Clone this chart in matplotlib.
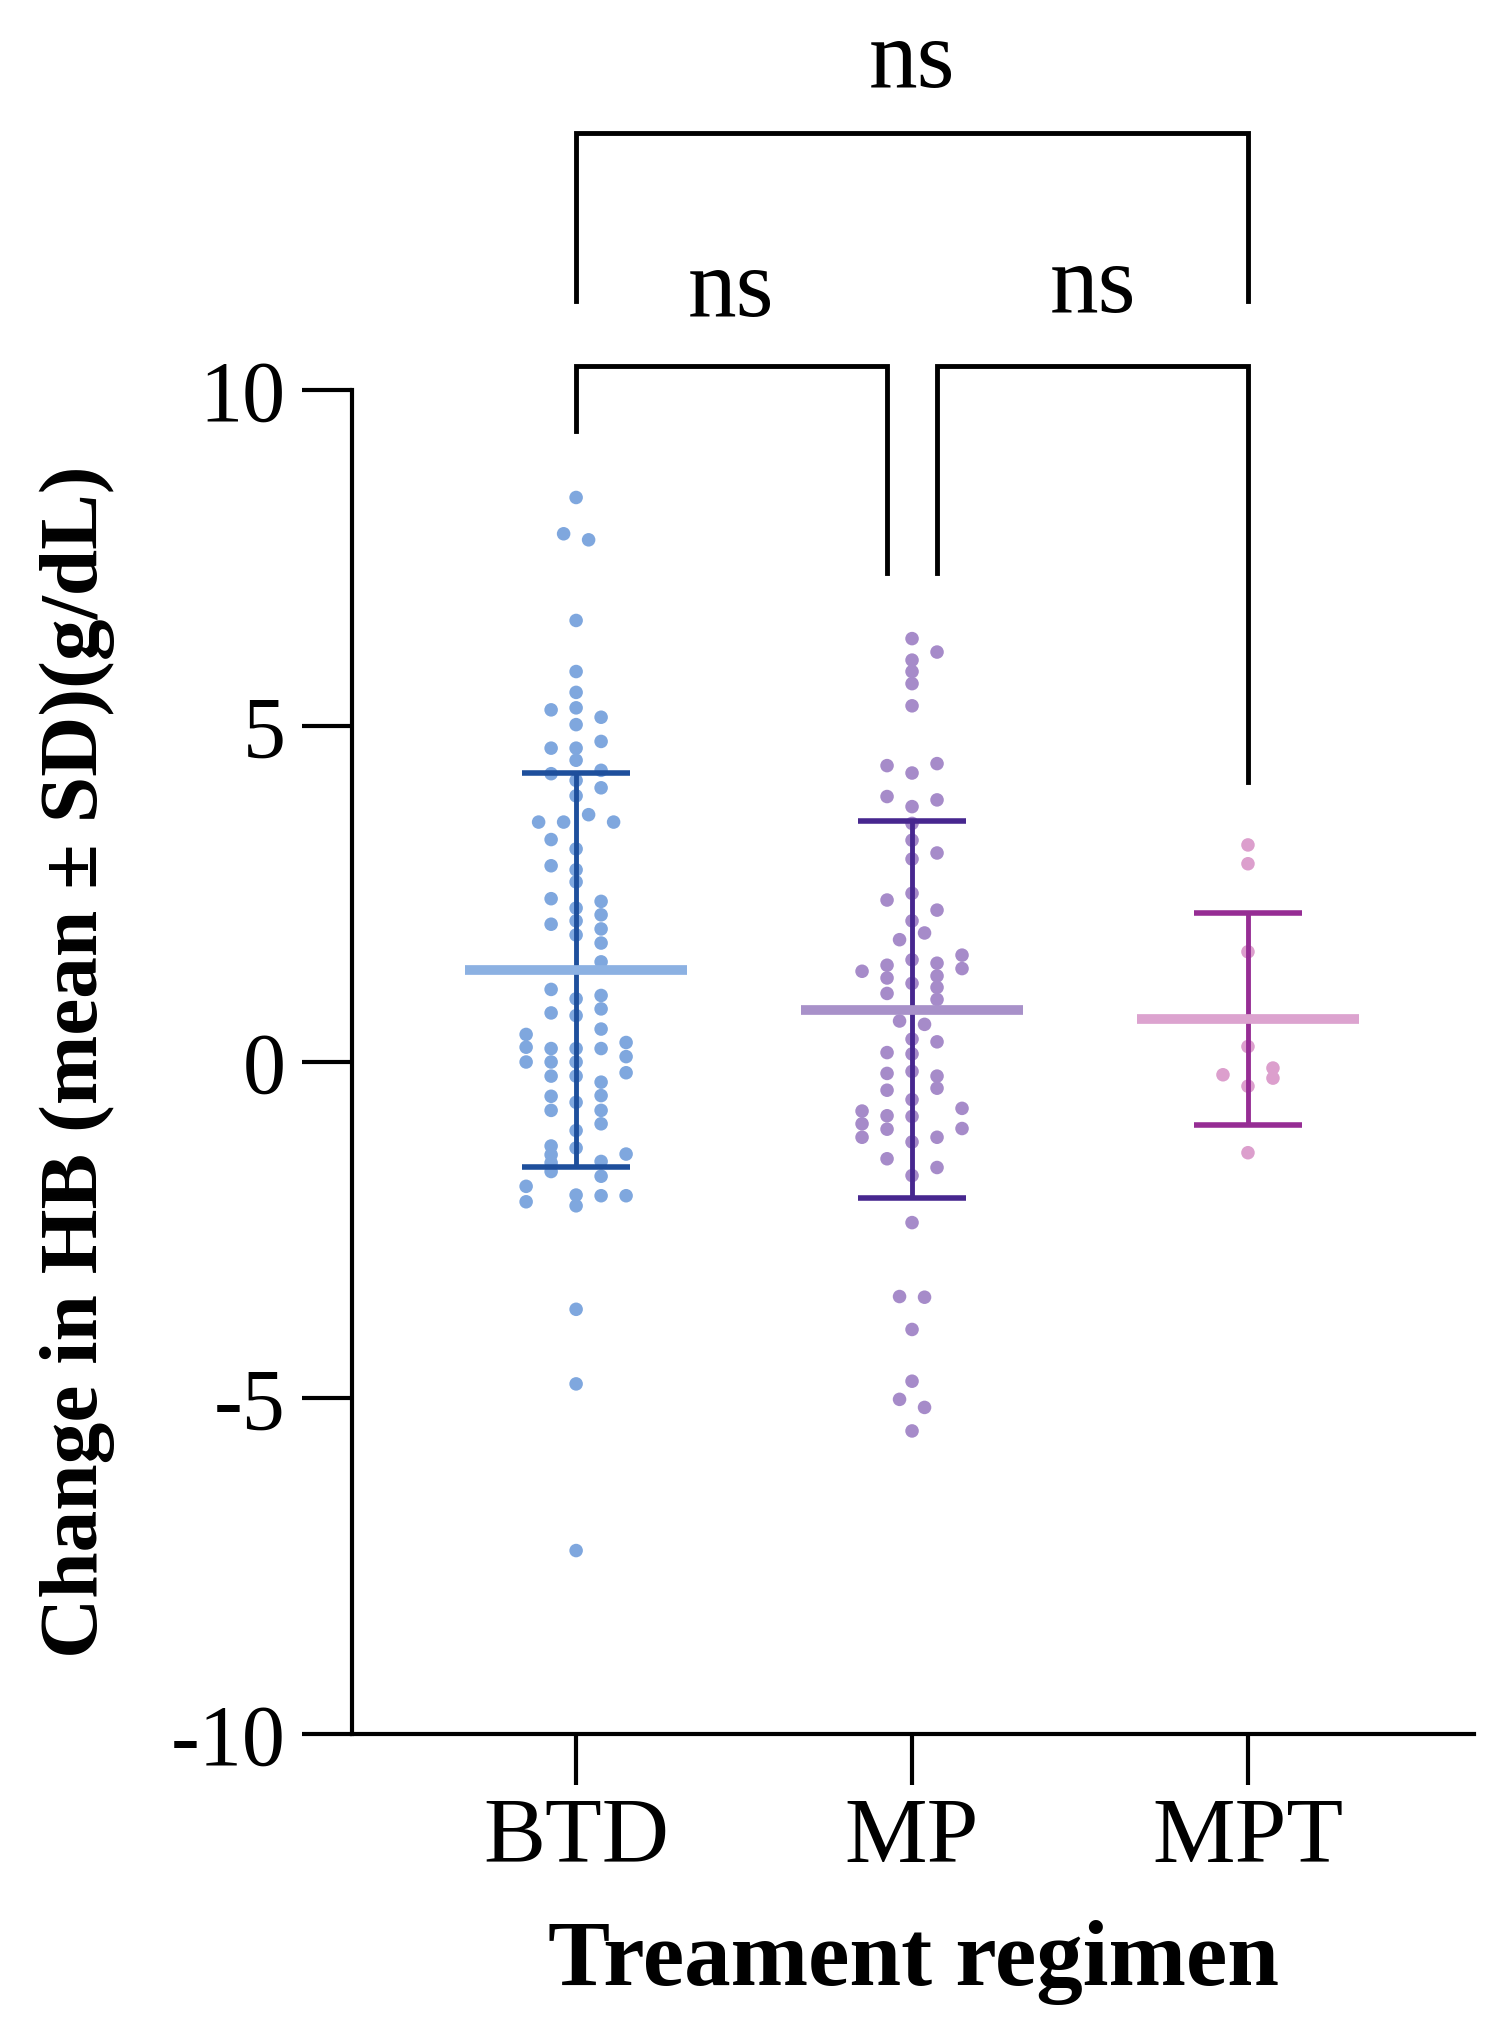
import numpy as np
import matplotlib
matplotlib.use("Agg")
import matplotlib.pyplot as plt

plt.rcParams['font.family'] = ['Liberation Serif', 'DejaVu Serif']

# groups
groups = ['BTD', 'MP', 'MPT']
group_means = [1.37, 0.78, 0.64]
group_sds = [2.93, 2.80, 1.58]

# individual values, with swarm column index for each point
btd_vals = [8.40, 7.86, 7.77, 6.57, 5.81, 5.50, 5.24, 5.27, 5.13, 5.02, 4.67, 4.67, 4.77,
            4.49, 4.29, 4.19, 4.34, 4.08, 3.96, 3.57, 3.57, 3.68, 3.57, 3.31, 3.17, 2.92,
            2.86, 2.68, 2.43, 2.39, 2.29, 2.19, 2.10, 2.05, 1.98, 1.89, 1.77, 1.49, 1.08,
            0.99, 0.94, 0.79, 0.73, 0.69, 0.49, 0.41, 0.29, 0.22, 0.20, 0.20, 0.20, 0.08,
            0.00, 0.00, 0.00, -0.16, -0.21, -0.21, -0.30, -0.50, -0.51, -0.60, -0.72, -0.72,
            -0.92, -1.02, -1.25, -1.28, -1.38, -1.37, -1.50, -1.48, -1.63, -1.70, -1.85,
            -2.08, -1.98, -2.14, -1.99, -1.99, -3.68, -4.79, -7.27]
btd_cols = [0, -0.5, 0.5, 0, 0, 0, -1, 0, 1, 0, -1, 0, 1,
            0, -1, 0, 1, 1, 0, -1.5, -0.5, 0.5, 1.5, -1, 0, -1,
            0, 0, -1, 1, 0, 1, 0, -1, 1, 0, 1, 1, -1,
            1, 0, 1, -1, 0, 1, -2, 2, -2, -1, 0, 1, 2,
            -2, -1, 0, 2, -1, 0, 1, 1, -1, 0, -1, 1,
            1, 0, -1, 0, -1, 2, -1, 1, -1, 1, -2,
            -2, 0, 0, 1, 2, 0, 0, 0]

mp_vals = [6.30, 6.10, 5.98, 5.81, 5.63, 5.30, 4.41, 4.44, 4.30, 3.95, 3.90, 3.80, 3.55,
           3.30, 3.11, 3.02, 2.51, 2.41, 2.26, 2.10, 1.92, 1.82, 1.52, 1.59, 1.39, 1.35,
           1.44, 1.25, 1.47, 1.28, 1.11, 1.17, 1.02, 0.93, 0.61, 0.56, 0.34, 0.30, 0.14,
           0.12, -0.17, -0.14, -0.21, -0.39, -0.42, -0.56, -0.73, -0.92, -1.12, -0.80,
           -1.00, -0.81, -0.69, -0.99, -1.12, -1.19, -1.44, -1.57, -1.69, -2.39, -3.49,
           -3.50, -3.98, -4.75, -5.02, -5.14, -5.49]
mp_cols = [0, 1, 0, 0, 0, 0, -1, 1, 0, -1, 1, 0, 0,
           0, 1, 0, 0, -1, 1, 0, 0.5, -0.5, 0, 2, 2, -2,
           -1, -1, 1, 1, 1, 0, -1, 1, -0.5, 0.5, 0, 1, -1,
           0, -1, 0, 1, 1, -1, 0, -2, -2, -2, -1,
           -1, 0, 2, 2, 1, 0, -1, 1, 0, 0, -0.5,
           0.5, 0, 0, -0.5, 0.5, 0]

mpt_vals = [3.23, 2.95, 1.64, 0.23, -0.19, -0.09, -0.24, -0.36, -1.35]
mpt_cols = [0, 0, 0, 0, -1, 1, 1, 0, 0]

point_colors = ['#7fa7de', '#a68bc9', '#dc9fcd']
mean_colors = ['#8cb1e2', '#a891c9', '#dca3cf']
err_colors = ['#1e4f9c', '#47278f', '#962d94']

all_vals = [btd_vals, mp_vals, mpt_vals]
all_cols = [btd_cols, mp_cols, mpt_cols]

# significance brackets: (left, right, y_top, left_end, right_end, label_x, label_y)
brackets = [
    (0, 2, 13.82, 11.32, 11.32, 1.0, 14.85),
    (0, 0.926, 10.36, 9.39, 7.28, 0.46, 11.45),
    (1.074, 2, 10.36, 7.28, 4.17, 1.54, 11.50),
]

fig = plt.figure(figsize=(15, 20.3), dpi=100)
ax = fig.add_axes([0.2347, 0.1458, 0.748, 0.6621])

col_step = 0.0744
for i in range(len(groups)):
    xs = i + np.array(all_cols[i]) * col_step
    ax.scatter(xs, all_vals[i], s=95, color=point_colors[i], edgecolors='none', zorder=2)
    ax.errorbar(i, group_means[i], yerr=group_sds[i], fmt='none', ecolor=err_colors[i],
                elinewidth=3.5, capsize=39, capthick=4, zorder=3)
    ax.plot([i - 0.33, i + 0.33], [group_means[i], group_means[i]],
            color=mean_colors[i], linewidth=7, solid_capstyle='butt', zorder=4)

for left, right, ytop, lend, rend, tx, ty in brackets:
    ax.plot([left, left, right, right], [lend, ytop, ytop, rend], color='black',
            linewidth=3.5, clip_on=False, solid_joinstyle='miter')
    ax.text(tx, ty, 'ns', ha='center', va='center', fontsize=70)

ax.set_xlim(-0.667, 2.673)
ax.set_ylim(-10, 10)
ax.set_yticks([-10, -5, 0, 5, 10])
ax.set_yticklabels(['-10', '-5', '0', '5', '10'])
ax.set_xticks(range(len(groups)))
ax.set_xticklabels(groups)

for side in ['top', 'right']:
    ax.spines[side].set_visible(False)
for side in ['left', 'bottom']:
    ax.spines[side].set_linewidth(3)

ax.tick_params(axis='y', length=36, width=3, labelsize=62, pad=12)
ax.tick_params(axis='x', length=37, width=3, labelsize=67, pad=8)

ax.set_xlabel('Treament regimen', fontsize=67, fontweight='bold', labelpad=28)
ax.set_ylabel('Change in HB (mean \u00b1 SD)(g/dL)', fontsize=60, fontweight='bold', labelpad=40)

fig.savefig('out.png', dpi=100)
